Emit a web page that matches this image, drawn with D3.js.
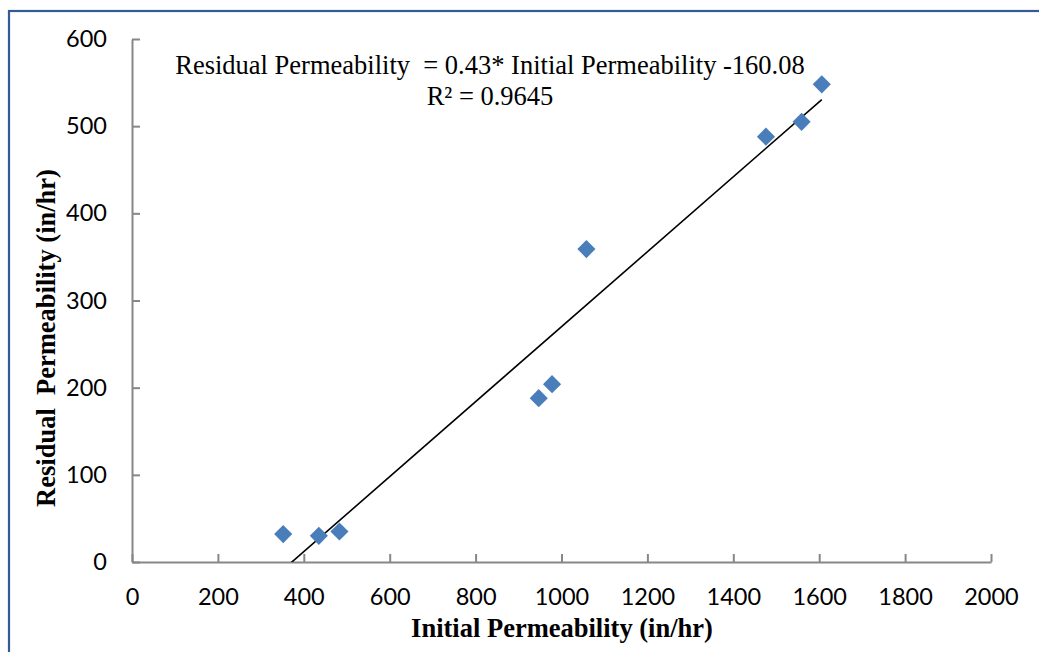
<!DOCTYPE html>
<html>
<head>
<meta charset="utf-8">
<script src="https://cdn.jsdelivr.net/npm/d3@7"></script>
<style>
  html, body { margin: 0; padding: 0; background: #fff; }
  svg { display: block; }
</style>
</head>
<body>
<svg id="chart" width="1039" height="652"></svg>
<script>
// Measured samples: initial vs residual permeability (in/hr)
const initialPerm  = [352, 435, 483, 947, 978, 1058, 1476, 1559, 1606];
const residualPerm = [32, 30, 35, 188, 204, 359, 488, 505, 548];

// Linear fit reported on the chart
const slope = 0.43;
const intercept = -160.08;
const rSquared = "0.9645";

const xTicks = [0, 200, 400, 600, 800, 1000, 1200, 1400, 1600, 1800, 2000];
const yTicks = [0, 100, 200, 300, 400, 500, 600];

const svg = d3.select("#chart");
const W = 1039, H = 652;

// outer frame
svg.append("rect")
  .attr("x", 9).attr("y", 11)
  .attr("width", W + 20).attr("height", H + 20)
  .attr("fill", "none")
  .attr("stroke", "#335c96")
  .attr("stroke-width", 2.2);

const plot = { left: 132, right: 991, top: 39, bottom: 562 };

const x = d3.scaleLinear().domain([0, 2000]).range([plot.left, plot.right]);
const y = d3.scaleLinear().domain([0, 600]).range([plot.bottom, plot.top]);

const axisColor = "#878787";
const tickFont = "Lato, 'Open Sans', sans-serif";
const tickSize = 23.5;

// x axis
const xAxis = svg.append("g")
  .attr("transform", `translate(0,${plot.bottom})`)
  .call(d3.axisBottom(x).tickValues(xTicks).tickFormat(d3.format("d"))
    .tickSizeInner(-8).tickSizeOuter(0).tickPadding(26));
xAxis.select(".domain").attr("stroke", axisColor).attr("stroke-width", 2);
xAxis.selectAll(".tick line").attr("stroke", axisColor).attr("stroke-width", 2);
xAxis.selectAll(".tick text")
  .attr("fill", "#000").attr("font-family", tickFont).attr("font-size", tickSize);

// y axis
const yAxis = svg.append("g")
  .attr("transform", `translate(${plot.left},0)`)
  .call(d3.axisLeft(y).tickValues(yTicks).tickFormat(d3.format("d"))
    .tickSizeInner(-8).tickSizeOuter(0).tickPadding(25));
yAxis.select(".domain").attr("stroke", axisColor).attr("stroke-width", 2);
yAxis.selectAll(".tick line").attr("stroke", axisColor).attr("stroke-width", 2);
yAxis.selectAll(".tick text")
  .attr("fill", "#000").attr("font-family", tickFont).attr("font-size", tickSize);

// clip for the trend line
svg.append("defs").append("clipPath").attr("id", "plotClip")
  .append("rect")
  .attr("x", plot.left).attr("y", plot.top)
  .attr("width", plot.right - plot.left).attr("height", plot.bottom - plot.top);

// trend line over the data range
const xMin = d3.min(initialPerm), xMax = d3.max(initialPerm);
const fitLine = [xMin, xMax].map(v => [v, slope * v + intercept]);
svg.append("path")
  .attr("clip-path", "url(#plotClip)")
  .attr("d", d3.line().x(d => x(d[0])).y(d => y(d[1]))(fitLine))
  .attr("stroke", "#000")
  .attr("stroke-width", 1.6)
  .attr("fill", "none");

// diamond markers
const diamond = d3.symbol().type(d3.symbolDiamond2).size(210);
svg.append("g").selectAll("path")
  .data(initialPerm.map((v, i) => [v, residualPerm[i]]))
  .join("path")
  .attr("transform", d => `translate(${x(d[0])},${y(d[1])})`)
  .attr("d", diamond)
  .attr("fill", "#4a7ebb");

// regression equation
const serif = "'Liberation Serif', 'Times New Roman', serif";
const serifSize = 26.5;
svg.append("text")
  .attr("x", 490).attr("y", 74)
  .attr("text-anchor", "middle")
  .attr("font-family", serif).attr("font-size", serifSize)
  .style("white-space", "pre")
  .text("Residual Permeability  = 0.43* Initial Permeability -160.08");
svg.append("text")
  .attr("x", 490).attr("y", 105)
  .attr("text-anchor", "middle")
  .attr("font-family", serif).attr("font-size", serifSize)
  .text("R² = " + rSquared);

// axis titles
svg.append("text")
  .attr("x", 562).attr("y", 637)
  .attr("text-anchor", "middle")
  .attr("font-family", serif).attr("font-weight", "bold").attr("font-size", serifSize)
  .text("Initial Permeability (in/hr)");
svg.append("text")
  .attr("transform", "translate(55,338) rotate(-90)")
  .attr("text-anchor", "middle")
  .attr("font-family", serif).attr("font-weight", "bold").attr("font-size", serifSize)
  .style("white-space", "pre")
  .text("Residual  Permeability (in/hr)");
</script>
</body>
</html>
